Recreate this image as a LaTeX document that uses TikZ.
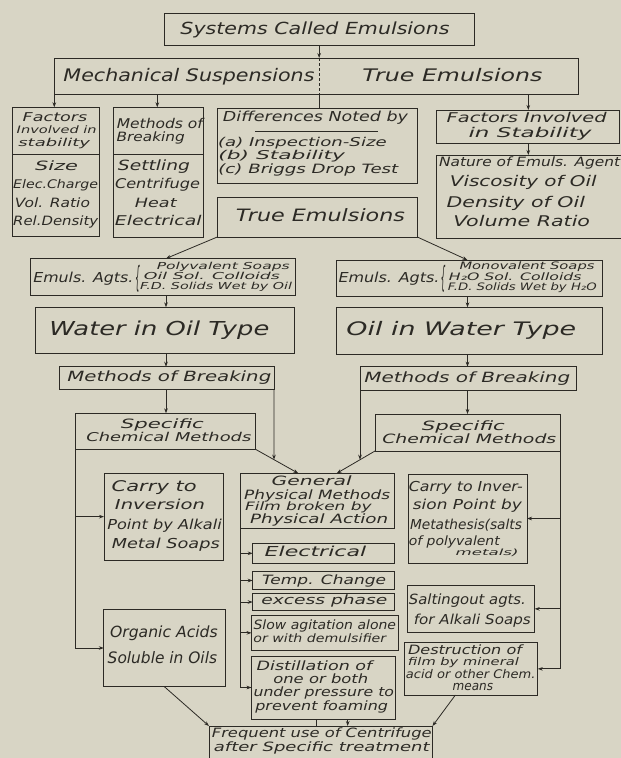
\documentclass[tikz,border=0pt]{standalone}
\usepackage{graphicx}
\usepackage{fontspec}
\setmainfont{DejaVu Sans}
\usetikzlibrary{arrows.meta}
\definecolor{bg}{RGB}{216,213,197}
\definecolor{ink}{RGB}{44,42,37}
\tikzset{
  txt/.style={inner sep=0pt, outer sep=0pt, text=ink, font=\itshape, anchor=center},
  box/.style={draw=ink, line width=0.9pt, inner sep=0pt, outer sep=0pt, rectangle},
  ln/.style={draw=ink, line width=0.8pt},
  arr/.style={draw=ink, line width=0.8pt, -{Stealth[length=5pt,width=3.6pt]}},
  dashln/.style={draw=ink, line width=0.8pt, dashed, dash pattern=on 3pt off 2pt}
}
% text line: name, cx, cy, width, cap height, text
\newcommand\tl[6]{\node[txt] (#1) at (#2,#3) {\resizebox*{#4pt}{\dimexpr #5pt*1240/1000\relax}{#6\vphantom{lg}}};}
% box: name, x1, y1, x2, y2
\newcommand\bx[5]{\node[box, minimum width={#4pt-#2pt}, minimum height={#5pt-#3pt}] (#1) at ({(#2+#4)/2},{(#3+#5)/2}) {};}
\begin{document}
\begin{tikzpicture}[x=1pt,y=-1pt]
\path[use as bounding box] (0,0) rectangle (621,758);
\clip (0,0) rectangle (621,758);
\fill[bg] (0,0) rectangle (621,758);

% ---------- boxes ----------
\bx{top}{164}{13.3}{474.3}{45.5}
\bx{wide}{54.3}{58}{578.3}{94}
\bx{fac}{12.3}{107.3}{99}{236.7}
\bx{met}{113.3}{107.3}{203.7}{237}
\bx{dif}{217.3}{108.3}{417.3}{183.3}
\bx{fis}{436}{110}{619.3}{143.3}
\bx{nat}{436}{155}{626}{238.7}
\bx{te2}{217.3}{197.3}{417.3}{237}
\bx{emL}{30}{258.5}{295}{295.5}
\bx{emR}{336}{260}{602.7}{296}
\bx{wio}{35.7}{307.3}{294.3}{353.8}
\bx{oiw}{336}{307.3}{602.7}{354}
\bx{mbL}{59.3}{366.7}{274}{389.3}
\bx{mbR}{360}{366.7}{576.7}{390}
\bx{scL}{75}{413.3}{255}{449}
\bx{scR}{375}{414}{560}{451}
\bx{gen}{240}{473.3}{394.3}{528.3}
\bx{carL}{104}{473.3}{223.3}{560}
\bx{carR}{408}{474}{527}{563}
\bx{ele}{252.7}{543.3}{394.3}{563.3}
\bx{tem}{252.7}{571.7}{394.3}{589.3}
\bx{exc}{252.7}{593.3}{394.3}{610.7}
\bx{slo}{251.5}{615.7}{398}{650}
\bx{dis}{251.5}{656}{395}{719}
\bx{org}{103.8}{609.3}{225}{686.7}
\bx{sal}{407}{585}{534.7}{632.7}
\bx{des}{404.8}{642.7}{537.8}{695}
\bx{frq}{209}{726}{432.5}{766}

% dividers and underline
\draw[ln] (fac.west |- 0,154) -- (fac.east |- 0,154);
\draw[ln] (met.west |- 0,154) -- (met.east |- 0,154);
\draw[ln] (255,131) -- (378,131);

% ---------- texts ----------
\tl{t1}{315}{29.5}{269}{13}{Systems Called Emulsions}
\tl{t2}{189}{77}{251}{13.5}{Mechanical Suspensions}
\tl{t3}{452.5}{77}{180}{13.5}{True Emulsions}

\tl{t4}{55}{118}{64.6}{9.5}{Factors}
\tl{t5}{56.7}{130.5}{80}{8}{Involved in}
\tl{t6}{54.2}{143}{71.7}{8.5}{stability}
\tl{t7}{56.5}{167}{43}{10}{Size}
\tl{t8}{55.7}{185}{85}{9.3}{Elec.Charge}
\tl{t9}{52.5}{203.5}{75}{10}{Vol. Ratio}
\tl{t10}{55.7}{222}{85}{10}{Rel.Density}

\tl{t11}{159.8}{124.5}{86}{10.5}{Methods of}
\tl{t12}{150.8}{138}{68.3}{10}{Breaking}
\tl{t13}{154}{167}{72}{11}{Settling}
\tl{t14}{157.5}{185}{85}{10.5}{Centrifuge}
\tl{t15}{155.8}{203.5}{41.7}{10}{Heat}
\tl{t16}{158.3}{222}{86.7}{10.5}{Electrical}

\tl{t17}{315.5}{118}{185}{10.7}{Differences Noted by}
\tl{t18}{302.4}{143.5}{168.7}{9.5}{(a) Inspection-Size}
\tl{t19}{281.7}{156.3}{126.7}{9.5}{(b) Stability}
\tl{t20}{308.3}{170}{180}{10}{(c) Briggs Drop Test}

\tl{t21}{526.7}{119}{160}{10.5}{Factors Involved}
\tl{t22}{530}{133.3}{123}{10.5}{in Stability}

\tl{t23}{529.7}{163.3}{181}{10}{Nature of Emuls. Agent}
\tl{t24}{523.3}{182.7}{146.7}{11.5}{Viscosity of Oil}
\tl{t25}{515.8}{203}{138.3}{11.5}{Density of Oil}
\tl{t26}{521.7}{222}{136.7}{11.5}{Volume Ratio}

\tl{t27}{320.5}{216.7}{169}{13.3}{True Emulsions}

\tl{t28}{83.3}{278.3}{100}{10.7}{Emuls. Agts.}
\node[txt] (brL) at (137.5,278.5) {\resizebox*{5pt}{27pt}{\{}};
\tl{t29}{223.3}{266.5}{133}{7.5}{Polyvalent Soaps}
\tl{t30}{212}{276.5}{136}{7.5}{Oil Sol. Colloids}
\tl{t31}{216}{287}{152}{7.5}{F.D. Solids Wet by Oil}

\tl{t32}{389}{278.3}{101}{10.7}{Emuls. Agts.}
\node[txt] (brR) at (443,278.5) {\resizebox*{5pt}{27pt}{\{}};
\tl{t33}{527}{266.7}{135}{8}{Monovalent Soaps}
\tl{t34}{515.3}{277.3}{132.7}{8}{H₂O Sol. Colloids}
\tl{t35}{522.3}{287.5}{148.7}{8}{F.D. Solids Wet by H₂O}

\tl{t36}{159.4}{330.5}{220}{15}{Water in Oil Type}
\tl{t37}{461.3}{330.5}{229.7}{14.5}{Oil in Water Type}

\tl{t38}{169.3}{378}{204}{11}{Methods of Breaking}
\tl{t39}{467.3}{378.3}{206}{11}{Methods of Breaking}

\tl{t40}{162.4}{425}{83}{10}{Specific}
\tl{t41}{168.9}{438.3}{165}{9.5}{Chemical Methods}
\tl{t42}{463.4}{427}{83}{10}{Specific}
\tl{t43}{469.3}{440}{174}{10}{Chemical Methods}

\tl{t44}{311.7}{481.7}{80}{10}{General}
\tl{t45}{317.2}{495.5}{146}{10}{Physical Methods}
\tl{t46}{308.4}{507.5}{126.7}{9}{Film broken by}
\tl{t47}{319.2}{519.5}{138}{10}{Physical Action}

\tl{t48}{154.2}{487.3}{85}{11.5}{Carry to}
\tl{t49}{160}{506}{90}{10.7}{Inversion}
\tl{t50}{164.6}{526}{114.5}{10.7}{Point by Alkali}
\tl{t51}{165.8}{545}{108}{10.7}{Metal Soaps}

\tl{t52}{465.8}{487.3}{114}{10.7}{Carry to Inver-}
\tl{t53}{467.4}{506}{109}{10.7}{sion Point by}
\tl{t54}{466}{525.7}{112}{10.7}{Metathesis(salts}
\tl{t55}{454.3}{542}{91}{10}{of polyvalent}
\tl{t56}{487.1}{553.3}{63}{6.7}{metals)}

\tl{t57}{315.5}{552.7}{101.7}{10.7}{Electrical}
\tl{t58}{324.1}{580.7}{124}{10}{Temp. Change}
\tl{t59}{324.4}{600.7}{126}{10}{excess phase}
\tl{t60}{324.8}{626}{142.5}{10}{Slow agitation alone}
\tl{t61}{319.8}{639.3}{132.7}{9}{or with demulsifier}
\tl{t62}{314.5}{666.7}{115.6}{10}{Distillation of}
\tl{t63}{320.8}{680}{95}{10}{one or both}
\tl{t64}{323.8}{693.3}{140.5}{10}{under pressure to}
\tl{t65}{321.7}{706.7}{132.7}{10}{prevent foaming}

\tl{t66}{163.9}{633.3}{107.7}{12}{Organic Acids}
\tl{t67}{162.4}{659.3}{109.3}{12.3}{Soluble in Oils}

\tl{t68}{467.4}{600.7}{117}{11}{Saltingout agts.}
\tl{t69}{472.3}{620.7}{116.8}{10.7}{for Alkali Soaps}

\tl{t70}{465}{651}{114}{10}{Destruction of}
\tl{t71}{463.4}{662.8}{110.9}{8.3}{film by mineral}
\tl{t72}{470.7}{675}{129.5}{9.3}{acid or other Chem.}
\tl{t73}{472.9}{687.3}{40.4}{10}{means}

\tl{t74}{321.8}{734}{219.8}{10}{Frequent use of Centrifuge}
\tl{t75}{321.8}{748.3}{215.8}{10}{after Specific treatment}

% ---------- helper x coordinates ----------
\coordinate (x157) at (157.3,0);
\coordinate (x528) at (528.3,0);
\coordinate (x166) at (166,0);
\coordinate (x467) at (467.5,0);
\coordinate (x298) at (298.3,0);
\coordinate (x337) at (336.7,0);
\coordinate (x455) at (455.4,0);
\coordinate (x317) at (316.8,0);
\coordinate (x348) at (347.7,0);
\coordinate (jL) at (274,459.6);
\coordinate (jR) at (360,459.7);

% ---------- connectors ----------
\draw[arr] (top.south) -- (top.south |- wide.north);
\draw[dashln] (top.south |- wide.north) -- (top.south |- wide.south);
\draw[ln] (top.south |- wide.south) -- (top.south |- dif.north);
\draw[arr] (wide.south west) -- (wide.south west |- fac.north);
\draw[arr] (x157 |- wide.south) -- (x157 |- met.north);
\draw[arr] (x528 |- wide.south) -- (x528 |- fis.north);
\draw[arr] (x528 |- fis.south) -- (x528 |- nat.north);

\draw[arr] (te2.south west) -- (x166 |- emL.north);
\draw[arr] (te2.south east) -- (x467 |- emR.north);
\draw[arr] (x166 |- emL.south) -- (x166 |- wio.north);
\draw[arr] (x467 |- emR.south) -- (x467 |- oiw.north);
\draw[arr] (x166 |- wio.south) -- (x166 |- mbL.north);
\draw[arr] (x467 |- oiw.south) -- (x467 |- mbR.north);
\draw[arr] (x166 |- mbL.south) -- (x166 |- scL.north);
\draw[arr] (x467 |- mbR.south) -- (x467 |- scR.north);

\draw[arr] (mbL.south east) -- (jL);
\draw[arr] (mbR.south west) -- (jR);
\draw[arr] (scL.south east) -- (x298 |- gen.north);
\draw[arr] (scR.south west) -- (x337 |- gen.north);

\draw[arr] (scL.south west) -- (scL.south west |- org.west) -- (org.west);
\draw[arr] (scL.south west |- carL.west) -- (carL.west);

\draw[arr] (scR.south east) -- (scR.south east |- des.east) -- (des.east);
\draw[arr] (scR.south east |- carR.east) -- (carR.east);
\draw[arr] (scR.south east |- sal.east) -- (sal.east);

\draw[arr] (gen.south west) -- (gen.south west |- dis.west) -- (dis.west);
\draw[arr] (gen.south west |- ele.west) -- (ele.west);
\draw[arr] (gen.south west |- tem.west) -- (tem.west);
\draw[arr] (gen.south west |- exc.west) -- (exc.west);
\draw[arr] (gen.south west |- slo.west) -- (slo.west);

\draw[arr] (org.south) -- (frq.north west);
\draw[arr] (x455 |- des.south) -- (frq.north east);
\draw[ln] (x317 |- dis.south) -- (x317 |- frq.north);
\draw[arr] (x348 |- dis.south) -- (x348 |- frq.north);
\end{tikzpicture}
\end{document}
